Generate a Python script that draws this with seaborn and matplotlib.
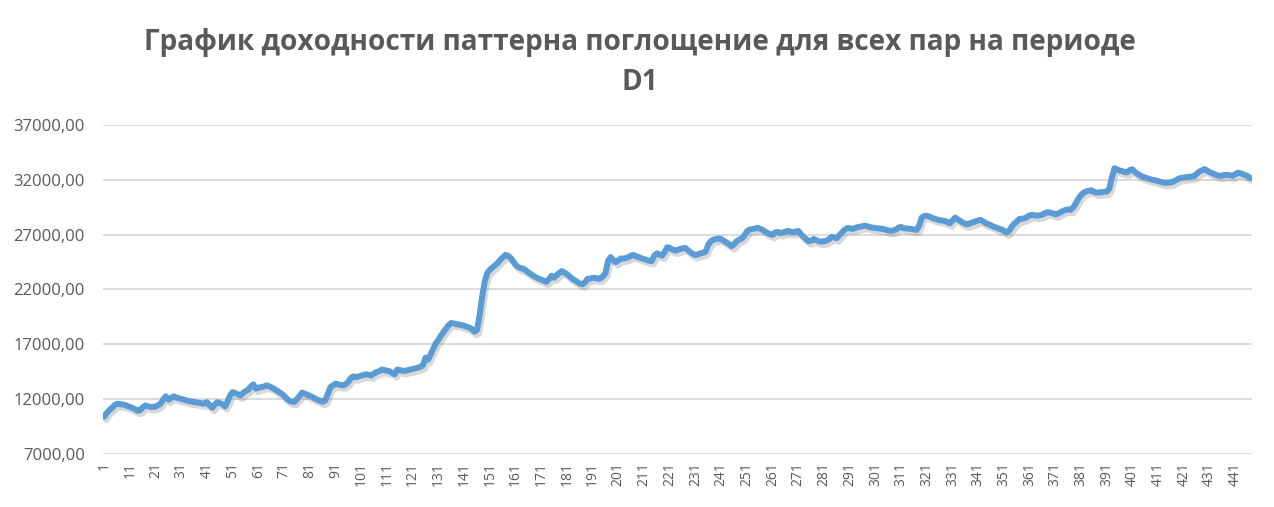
import numpy as np
import pandas as pd
import seaborn as sns
import matplotlib.pyplot as plt
import matplotlib.patheffects as pe
from matplotlib.ticker import FuncFormatter, FixedLocator

title = "График доходности паттерна поглощение для всех пар на периоде\nD1"

# balance per trade (trades 1..447)
balance = [
    10400, 10750, 11000, 11200, 11450, 11590, 11560, 11520, 11480, 11380,
    11290, 11200, 11080, 10950, 11000, 11250, 11430, 11350, 11280, 11300,
    11340, 11450, 11600, 12000, 12260, 11950, 12100, 12260, 12150, 12080,
    12000, 11950, 11900, 11820, 11780, 11730, 11700, 11650, 11620, 11590,
    11730, 11450, 11220, 11500, 11730, 11650, 11550, 11340, 11800, 12350,
    12650, 12550, 12450, 12350, 12550, 12750, 12850, 13150, 13350, 12960,
    13050, 13100, 13150, 13250, 13200, 13080, 12960, 12800, 12650, 12500,
    12300, 12050, 11850, 11780, 11750, 12000, 12300, 12600, 12500, 12400,
    12300, 12200, 12050, 11950, 11850, 11750, 11890, 12500, 13100, 13250,
    13420, 13350, 13280, 13260, 13380, 13600, 13950, 14080, 14000, 14080,
    14150, 14220, 14270, 14200, 14170, 14350, 14480, 14550, 14700, 14650,
    14600, 14550, 14400, 14270, 14700, 14650, 14600, 14570, 14650, 14700,
    14750, 14800, 14880, 14950, 15090, 15790, 15600, 16100, 16620, 17100,
    17400, 17800, 18130, 18450, 18750, 18950, 18900, 18840, 18800, 18760,
    18700, 18620, 18530, 18400, 18150, 18300, 19600, 21300, 22700, 23500,
    23800, 24000, 24200, 24400, 24700, 24900, 25150, 25100, 24900, 24600,
    24250, 24050, 23950, 23900, 23750, 23550, 23400, 23250, 23100, 23000,
    22900, 22800, 22700, 22950, 23250, 23070, 23300, 23500, 23680, 23550,
    23400, 23200, 23000, 22850, 22700, 22550, 22470, 22650, 22950, 23000,
    23050, 23070, 22980, 23000, 23200, 23500, 24600, 24950, 24650, 24500,
    24650, 24840, 24800, 24880, 24950, 25100, 25140, 25000, 24950, 24850,
    24780, 24700, 24620, 24590, 25100, 25300, 25200, 25080, 25400, 25850,
    25800, 25650, 25550, 25600, 25700, 25750, 25800, 25600, 25400, 25250,
    25150, 25200, 25300, 25350, 25450, 26100, 26400, 26550, 26600, 26650,
    26600, 26450, 26300, 26150, 25950, 26100, 26400, 26550, 26650, 26900,
    27300, 27450, 27500, 27550, 27620, 27550, 27450, 27300, 27150, 27050,
    26970, 27200, 27250, 27150, 27200, 27280, 27340, 27280, 27220, 27280,
    27340, 27050, 26820, 26600, 26400, 26450, 26600, 26500, 26400, 26360,
    26400, 26450, 26600, 26800, 26750, 26680, 26950, 27200, 27450, 27600,
    27580, 27520, 27600, 27680, 27730, 27780, 27820, 27750, 27680, 27640,
    27600, 27580, 27550, 27520, 27450, 27380, 27340, 27400, 27450, 27650,
    27700, 27600, 27560, 27540, 27520, 27480, 27430, 27800, 28550, 28700,
    28730, 28650, 28550, 28450, 28380, 28320, 28280, 28250, 28150, 28040,
    28300, 28550, 28400, 28250, 28100, 27980, 27950, 28050, 28130, 28200,
    28300, 28340, 28200, 28050, 27950, 27850, 27730, 27650, 27550, 27480,
    27350, 27200, 27350, 27700, 28000, 28200, 28430, 28450, 28500, 28600,
    28750, 28800, 28760, 28730, 28780, 28820, 28980, 29050, 29000, 28950,
    28850, 28900, 29050, 29150, 29260, 29300, 29260, 29500, 29870, 30300,
    30600, 30840, 30950, 31000, 31050, 30900, 30840, 30850, 30880, 30900,
    30930, 31200, 32200, 33050, 32950, 32850, 32800, 32700, 32680, 32900,
    32950, 32700, 32550, 32400, 32280, 32200, 32120, 32050, 32000, 31950,
    31880, 31800, 31750, 31720, 31750, 31760, 31850, 31980, 32100, 32180,
    32200, 32250, 32270, 32300, 32350, 32550, 32750, 32850, 32980, 32850,
    32700, 32610, 32500, 32420, 32360, 32400, 32440, 32450, 32400, 32360,
    32500, 32650, 32600, 32500, 32420, 32300, 32150,
]
trade = list(range(1, len(balance) + 1))
x_ticks = list(range(1, len(balance) + 1, 10))
y_ticks = [7000, 12000, 17000, 22000, 27000, 32000, 37000]

df = pd.DataFrame({"trade": trade, "balance": balance})

sns.set_theme(style="white")
plt.rcParams['font.family'] = ['Open Sans', 'DejaVu Sans']

fig = plt.figure(figsize=(12.74, 5.07), dpi=100)
ax = fig.add_axes([0.0808, 0.1045, 0.9019, 0.649])

sns.lineplot(data=df, x="trade", y="balance", ax=ax, color="#5B9BD5",
             linewidth=4.3, solid_joinstyle="round", solid_capstyle="round",
             path_effects=[pe.SimpleLineShadow(offset=(1.5, -2.5), shadow_color="#7f7f7f", alpha=0.3),
                           pe.Normal()])

ax.set_xlim(0.5, len(balance) + 0.5)
ax.set_ylim(7000, 37000)
ax.yaxis.set_major_locator(FixedLocator(y_ticks))
ax.yaxis.set_major_formatter(FuncFormatter(lambda v, p: f"{v:.2f}".replace('.', ',')))
ax.set_xticks(x_ticks)
ax.set_xticklabels([str(t) for t in x_ticks], rotation=90)
ax.grid(axis="y", color="#D9D9D9", linewidth=1.3)
ax.set_axisbelow(True)
for s in ax.spines.values():
    s.set_visible(False)
ax.tick_params(axis="y", length=0, pad=13, labelsize=12, labelcolor="#595959")
ax.tick_params(axis="x", length=0, pad=6, labelsize=10, labelcolor="#595959")
ax.set_xlabel("")
ax.set_ylabel("")

fig.text(0.502, 0.944, title, ha="center", va="top", fontsize=20.2, fontweight="bold",
         color="#595959", linespacing=1.48)

fig.savefig("out.png", dpi=100)
